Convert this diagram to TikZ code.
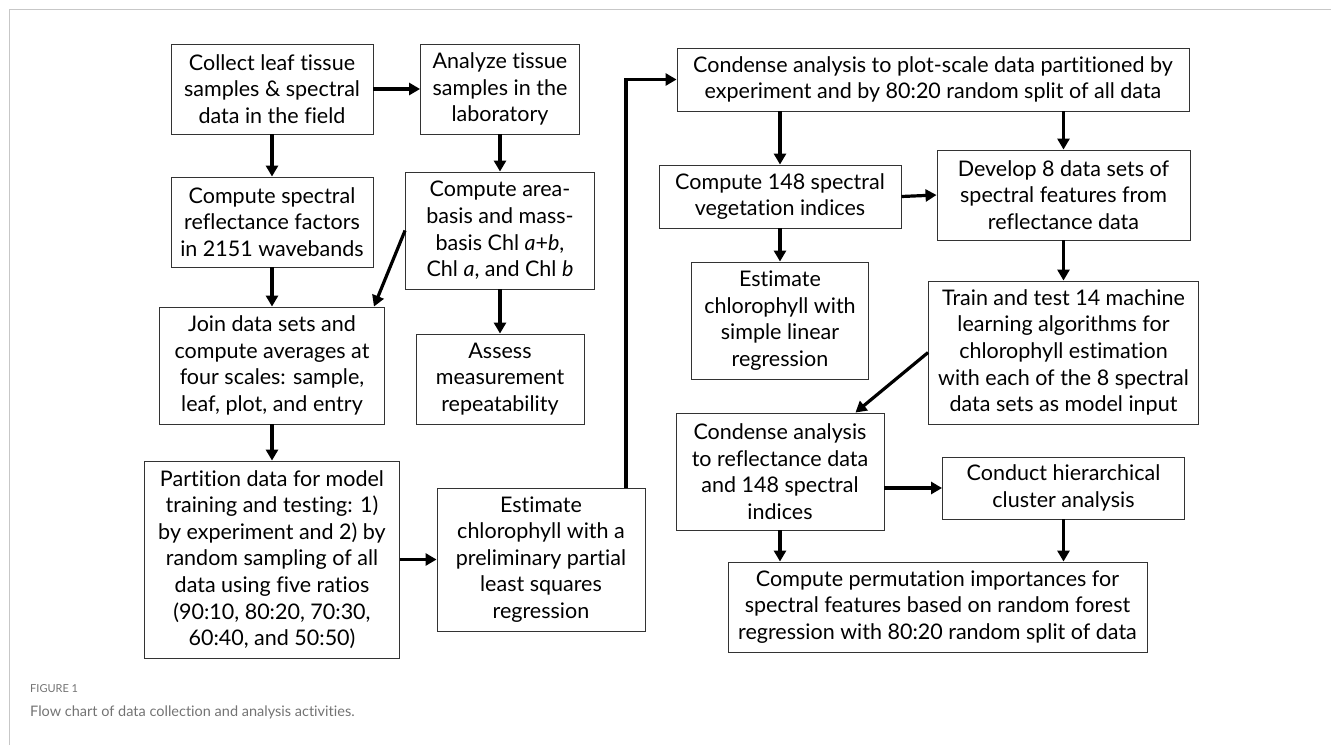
\documentclass[tikz,border=0pt]{standalone}
\usepackage{fontspec}
\setmainfont{Lato}[Ligatures=NoCommon]
\usetikzlibrary{arrows.meta}
\begin{document}
\begin{tikzpicture}[x=1pt,y=-1pt,box/.style={draw=black!80,line width=0.9pt,align=center,inner sep=1pt,font=\fontsize{21.5}{26.6}\selectfont},arr/.style={line width=3.2pt,-{Triangle[length=11pt,width=12pt]}},capt/.style={anchor=west,inner sep=0pt,text=black!55}]
\def\xa{272};
\def\xb{500};
\def\xc{780};
\def\xd{1063.5};

\useasboundingbox (0,0) rectangle (1331,745);
\draw[black!22,line width=0.8pt] (9,745) -- (9,9) -- (1331,9);

\node[box,minimum width=202,minimum height=90] (collect) at (\xa,89) {Collect leaf tissue\\samples \& spectral\\data in the field};
\node[box,minimum width=159,minimum height=90] (analyze) at (\xb,89) {Analyze tissue\\samples in the\\laboratory};
\draw[arr] (collect.east) -- (analyze.west);

\node[box,minimum width=202,minimum height=90] (reflect) at (\xa,222) {Compute spectral\\reflectance factors\\in 2151 wavebands};
\draw[arr] (collect.south) -- (reflect.north);
\node[box,minimum width=189,minimum height=117] (chl) at (\xb,230.5) {Compute area-\\basis and mass-\\basis Chl \textit{a}+\textit{b},\\Chl \textit{a}, and Chl \textit{b}};
\draw[arr] (analyze.south) -- (chl.north);

\node[box,minimum width=225,minimum height=117] (join) at (\xa,365.5) {Join data sets and\\compute averages at\\four scales: sample,\\leaf, plot, and entry};
\draw[arr] (reflect.south) -- (join.north);
\draw[arr] (chl.west) -- ([xshift=-11pt]join.north east);
\node[box,minimum width=168,minimum height=90] (assess) at (\xb,379) {Assess\\measurement\\repeatability};
\draw[arr] (chl.south) -- (assess.north);

\node[box,minimum width=255,minimum height=197] (part) at (\xa,559.5) {Partition data for model\\training and testing: 1)\\by experiment and 2) by\\random sampling of all\\data using five ratios\\(90:10, 80:20, 70:30,\\60:40, and 50:50)};
\draw[arr] (join.south) -- (part.north);
\node[box,minimum width=208,minimum height=143] (pls) at (541,559.5) {Estimate\\chlorophyll with a\\preliminary partial\\least squares\\regression};
\draw[arr] (part.east) -- (pls.west);

\node[box,minimum width=512,minimum height=63] (plot) at (933,79.5) {Condense analysis to plot-scale data partitioned by\\experiment and by 80:20 random split of all data};
\draw[arr] ([xshift=85pt]pls.north) |- (plot.west);

\node[box,minimum width=242,minimum height=63] (vi) at (\xc,196.5) {Compute 148 spectral\\vegetation indices};
\draw[arr] (plot.south -| vi.north) -- (vi.north);
\node[box,minimum width=253,minimum height=90] (develop) at (\xd,195) {Develop 8 data sets of\\spectral features from\\reflectance data};
\draw[arr] (plot.south -| develop.north) -- (develop.north);
\draw[arr] (vi.east) -- (develop.west);

\node[box,minimum width=177,minimum height=117] (slr) at (\xc,320.5) {Estimate\\chlorophyll with\\simple linear\\regression};
\draw[arr] (vi.south) -- (slr.north);
\node[box,minimum width=270,minimum height=143] (train) at (\xd,352.5) {Train and test 14 machine\\learning algorithms for\\chlorophyll estimation\\with each of the 8 spectral\\data sets as model input};
\draw[arr] (develop.south) -- (train.north);

\node[box,minimum width=208,minimum height=117] (refl) at (\xc,471.5) {Condense analysis\\to reflectance data\\and 148 spectral\\indices};
\draw[arr] (train.west) -- ([xshift=-29pt]refl.north east);
\node[box,minimum width=242,minimum height=62] (cluster) at (\xd,488) {Conduct hierarchical\\cluster analysis};
\draw[arr] (refl.east |- cluster.west) -- (cluster.west);

\node[box,minimum width=419,minimum height=90] (perm) at (937.5,607) {Compute permutation importances for\\spectral features based on random forest\\regression with 80:20 random split of data};
\draw[arr] (refl.south) -- (refl.south |- perm.north);
\draw[arr] (cluster.south) -- (cluster.south |- perm.north);

\node[capt,font=\fontsize{11}{13}\selectfont] (fig) at (30,689) {FIGURE 1};
\node[capt,font=\fontsize{14.5}{17}\selectfont] (caption) at (30,712) {Flow chart of data collection and analysis activities.};
\end{tikzpicture}
\end{document}
